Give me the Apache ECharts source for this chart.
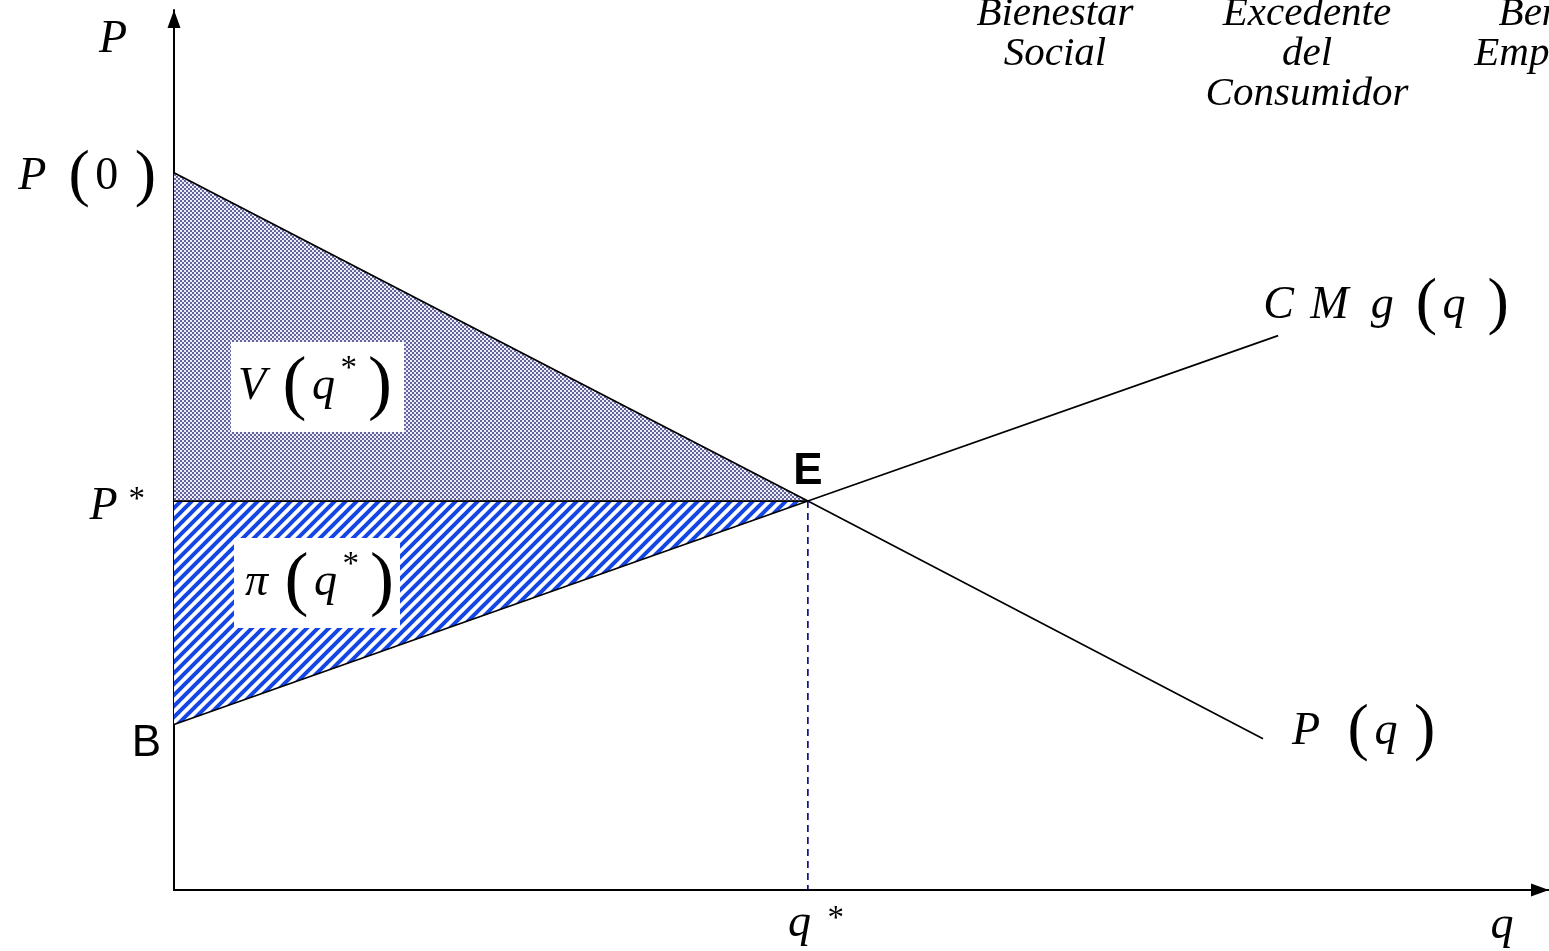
<!DOCTYPE html>
<html>
<head>
<meta charset="utf-8">
<script src="https://cdn.jsdelivr.net/npm/echarts@6/dist/echarts.min.js"></script>
<style>
  html, body { margin: 0; padding: 0; background: #fff; }
  #chart { width: 1549px; height: 951px; }
</style>
</head>
<body>
<div id="chart"></div>
<script>
// valores (escala arbitraria 0-100 en ambos ejes)
const qStar = 46.1;
const pStar = 44.2;
const p0 = 81.5;
const bPoint = 18.8;
const demandLine = [[0, 81.5], [46.1, 44.2], [79.2, 17.2]];
const cmgLine = [[0, 18.8], [46.1, 44.2], [80.3, 63.0]];
const consumerArea = [[0, p0], [qStar, pStar], [0, pStar]];
const producerArea = [[0, pStar], [qStar, pStar], [0, bPoint]];
const topTitles = [["Bienestar", "Social"], ["Excedente", "del", "Consumidor"], ["Beneficio", "Empresarial"]];

const serif = '"Liberation Serif", "Times New Roman", serif';
const sans = '"Liberation Sans", Arial, sans-serif';

// tramas de relleno
function checkerPattern() {
  const c = document.createElement("canvas");
  c.width = 4; c.height = 4;
  const ctx = c.getContext("2d");
  ctx.fillStyle = "#ececf4";
  ctx.fillRect(0, 0, 4, 4);
  ctx.fillStyle = "#64649e";
  ctx.fillRect(0, 0, 2, 2);
  ctx.fillRect(2, 2, 2, 2);
  return c;
}
function stripePattern() {
  const s = 11;
  const c = document.createElement("canvas");
  c.width = s; c.height = s;
  const ctx = c.getContext("2d");
  ctx.fillStyle = "#ffffff";
  ctx.fillRect(0, 0, s, s);
  ctx.strokeStyle = "#1446e6";
  ctx.lineWidth = 4;
  ctx.beginPath();
  ctx.moveTo(-s, s); ctx.lineTo(s, -s);
  ctx.moveTo(0, s); ctx.lineTo(s, 0);
  ctx.moveTo(0, 2 * s); ctx.lineTo(2 * s, 0);
  ctx.stroke();
  return c;
}

const areaRenderer = (pts, pattern) => (params, api) => ({
  type: "polygon",
  shape: { points: pts.map((p) => api.coord(p)) },
  style: { fill: { image: pattern, repeat: "repeat" }, stroke: null },
});

const blackLine = { color: "#000", width: 1.7 };
const axisStyle = {
  show: true, symbol: ["none", "triangle"], symbolSize: [13, 18], symbolOffset: [0, -9],
  lineStyle: { color: "#000", width: 2 },
};

const chart = echarts.init(document.getElementById("chart"));
chart.setOption({
  animation: false,
  grid: { left: 174, right: 0, top: 10, bottom: 61 },
  xAxis: {
    type: "value", min: 0, max: 100, axisLine: axisStyle,
    axisTick: { show: false }, axisLabel: { show: false }, splitLine: { show: false },
  },
  yAxis: {
    type: "value", min: 0, max: 100, axisLine: axisStyle,
    axisTick: { show: false }, axisLabel: { show: false }, splitLine: { show: false },
  },
  series: [
    { type: "custom", silent: true, z: 1, data: [[0, 0]], renderItem: areaRenderer(consumerArea, checkerPattern()) },
    { type: "custom", silent: true, z: 1, data: [[0, 0]], renderItem: areaRenderer(producerArea, stripePattern()) },
    { type: "line", data: demandLine, symbol: "none", lineStyle: blackLine, z: 3 },
    { type: "line", data: cmgLine, symbol: "none", lineStyle: blackLine, z: 3 },
    { type: "line", data: [[0, pStar], [qStar, pStar]], symbol: "none", lineStyle: blackLine, z: 3 },
    { type: "line", data: [[qStar, pStar], [qStar, 0]], symbol: "none", lineStyle: { color: "#000080", width: 1.6, type: [7, 5] }, z: 3 },
  ],
});

// etiquetas
const rich = {
  i: { fontFamily: serif, fontStyle: "italic", fontSize: 46, fill: "#000" },
  n: { fontFamily: serif, fontSize: 46, fill: "#000" },
  p: { fontFamily: serif, fontSize: 64, fill: "#000" },
  pp: { fontFamily: serif, fontSize: 72, fill: "#000" },
  s: { fontFamily: serif, fontSize: 33, fill: "#000", verticalAlign: "top", padding: [2, 0, 0, 0] },
  s2: { fontFamily: serif, fontSize: 33, fill: "#000", verticalAlign: "top", padding: [0, 0, 0, 0] },
  g: { fontFamily: serif, fontSize: 44, fill: "#000" },
  h: { fontFamily: serif, fontSize: 22, fill: "#000" },
};
const px = (q, p) => chart.convertToPixel({ gridIndex: 0 }, [q, p]);
function mathText(text, x, y, align) {
  return {
    type: "text", x: x, y: y, z: 10,
    style: { legacy: false, text: text, rich: rich, align: align || "left", verticalAlign: "middle" },
  };
}

const a0 = px(0, p0), aS = px(0, pStar), aB = px(0, bPoint), aE = px(qStar, pStar);
const aQ = px(qStar, 0), aD = px(demandLine[2][0], demandLine[2][1]), aC = px(cmgLine[2][0], cmgLine[2][1]);

const graphics = [
  mathText("{i|P}", 113, 40, "center"),
  mathText("{i|P}{g|  }{p|(}{h| }{n|0}{g| }{h| }{p|)}", a0[0] - 18, a0[1] + 4, "right"),
  mathText("{i|P}{g| }{s2|*}", aS[0] - 29, aS[1] + 6, "right"),
  { type: "text", x: aB[0] - 13, y: aB[1] + 19, z: 10, style: { legacy: false, text: "B", font: "44px " + sans, fill: "#000", align: "right", verticalAlign: "middle" } },
  { type: "text", x: aE[0], y: aE[1] - 29, z: 10, style: { legacy: false, text: "E", font: "bold 44px " + sans, fill: "#000", align: "center", verticalAlign: "middle" } },
  mathText("{i|q}{g| }{h| }{s|*}", aQ[0] - 20, aQ[1] + 34, "left"),
  mathText("{i|q}", 1502, 926, "center"),
  mathText("{i|C}{g| }{h| }{i|M}{g| }{g| }{i|g}{g|  }{p|(}{h| }{i|q}{g|  }{p|)}", aC[0] - 15, aC[1] - 30, "left"),
  mathText("{i|P}{g|  }{h| }{p|(}{h| }{i|q}{g| }{h| }{p|)}", aD[0] + 29, aD[1] - 7, "left"),
  { type: "rect", z: 9, shape: { x: 231, y: 342, width: 173, height: 90 }, style: { fill: "#fff" } },
  { type: "rect", z: 9, shape: { x: 234, y: 538, width: 166, height: 90 }, style: { fill: "#fff" } },
  mathText("{i|V}{g| }{h| }{pp|(}{h| }{i|q}{h| }{s|*}{g| }{pp|)}", 238, 387, "left"),
  mathText("{i|π}{g| }{h| }{pp|(}{h| }{i|q}{h| }{s|*}{g| }{pp|)}", 245, 583, "left"),
];

const titleX = [1055, 1307, 1576];
topTitles.forEach((lines, k) => {
  graphics.push({
    type: "text", x: titleX[k], y: -6, z: 10,
    style: { legacy: false, text: lines.join("\n"), font: "italic 41px " + serif, lineHeight: 40, fill: "#000", align: "center", verticalAlign: "top" },
  });
});

chart.setOption({ graphic: graphics });
</script>
</body>
</html>
